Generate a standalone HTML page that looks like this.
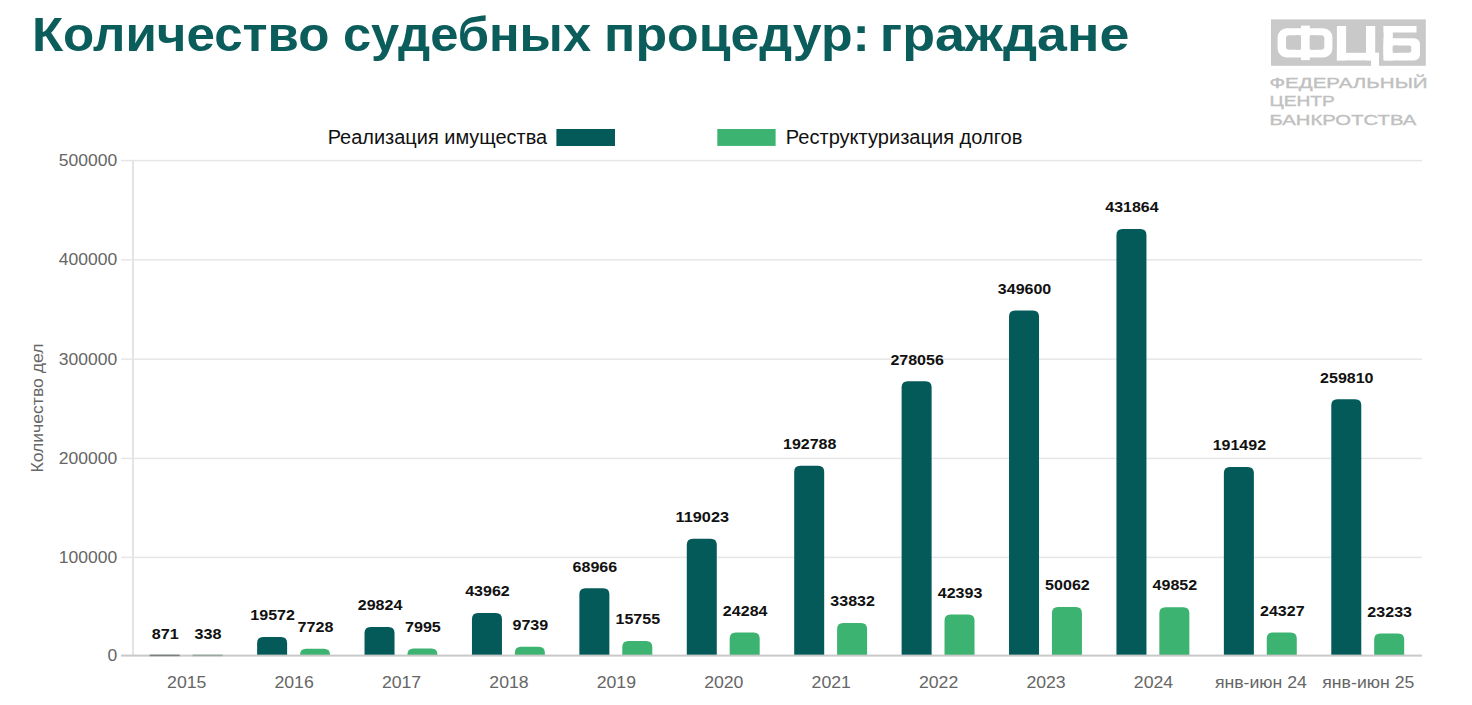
<!DOCTYPE html>
<html><head><meta charset="utf-8"><title>Количество судебных процедур: граждане</title>
<style>
html,body{margin:0;padding:0;background:#fff;width:1472px;height:705px;overflow:hidden}
svg{display:block;font-family:'Liberation Sans', sans-serif}
</style></head><body>
<svg width="1472" height="705" viewBox="0 0 1472 705">
<rect width="1472" height="705" fill="#fff"/>
<rect x="121" y="556.65" width="1301.00" height="1.5" fill="#e6e6e6"/>
<rect x="121" y="457.65" width="1301.00" height="1.5" fill="#e6e6e6"/>
<rect x="121" y="358.35" width="1301.00" height="1.5" fill="#e6e6e6"/>
<rect x="121" y="259.05" width="1301.00" height="1.5" fill="#e6e6e6"/>
<rect x="121" y="159.85" width="1301.00" height="1.5" fill="#e6e6e6"/>
<rect x="132.00" y="159.85" width="2" height="495.75" fill="#e4e4e4"/>


<path d="M257.12,655.60 L257.12,643.12 Q257.12,637.12 263.12,637.12 L281.12,637.12 Q287.12,637.12 287.12,643.12 L287.12,655.60 Z" fill="#035a59"/>
<path d="M300.02,655.60 L300.02,654.85 Q300.02,648.85 306.02,648.85 L324.02,648.85 Q330.02,648.85 330.02,654.85 L330.02,655.60 Z" fill="#3cb371"/>
<path d="M364.53,655.60 L364.53,632.97 Q364.53,626.97 370.53,626.97 L388.53,626.97 Q394.53,626.97 394.53,632.97 L394.53,655.60 Z" fill="#035a59"/>
<path d="M407.43,655.60 L407.43,654.58 Q407.43,648.58 413.43,648.58 L431.43,648.58 Q437.43,648.58 437.43,654.58 L437.43,655.60 Z" fill="#3cb371"/>
<path d="M471.95,655.60 L471.95,618.98 Q471.95,612.98 477.95,612.98 L495.95,612.98 Q501.95,612.98 501.95,618.98 L501.95,655.60 Z" fill="#035a59"/>
<path d="M514.85,655.60 L514.85,652.86 Q514.85,646.86 520.85,646.86 L538.85,646.86 Q544.85,646.86 544.85,652.86 L544.85,655.60 Z" fill="#3cb371"/>
<path d="M579.37,655.60 L579.37,594.22 Q579.37,588.22 585.37,588.22 L603.37,588.22 Q609.37,588.22 609.37,594.22 L609.37,655.60 Z" fill="#035a59"/>
<path d="M622.27,655.60 L622.27,646.90 Q622.27,640.90 628.27,640.90 L646.27,640.90 Q652.27,640.90 652.27,646.90 L652.27,655.60 Z" fill="#3cb371"/>
<path d="M686.78,655.60 L686.78,544.67 Q686.78,538.67 692.78,538.67 L710.78,538.67 Q716.78,538.67 716.78,544.67 L716.78,655.60 Z" fill="#035a59"/>
<path d="M729.68,655.60 L729.68,638.46 Q729.68,632.46 735.68,632.46 L753.68,632.46 Q759.68,632.46 759.68,638.46 L759.68,655.60 Z" fill="#3cb371"/>
<path d="M794.20,655.60 L794.20,471.64 Q794.20,465.64 800.20,465.64 L818.20,465.64 Q824.20,465.64 824.20,471.64 L824.20,655.60 Z" fill="#035a59"/>
<path d="M837.10,655.60 L837.10,629.01 Q837.10,623.01 843.10,623.01 L861.10,623.01 Q867.10,623.01 867.10,629.01 L867.10,655.60 Z" fill="#3cb371"/>
<path d="M901.62,655.60 L901.62,387.22 Q901.62,381.22 907.62,381.22 L925.62,381.22 Q931.62,381.22 931.62,387.22 L931.62,655.60 Z" fill="#035a59"/>
<path d="M944.52,655.60 L944.52,620.53 Q944.52,614.53 950.52,614.53 L968.52,614.53 Q974.52,614.53 974.52,620.53 L974.52,655.60 Z" fill="#3cb371"/>
<path d="M1009.03,655.60 L1009.03,316.40 Q1009.03,310.40 1015.03,310.40 L1033.03,310.40 Q1039.03,310.40 1039.03,316.40 L1039.03,655.60 Z" fill="#035a59"/>
<path d="M1051.93,655.60 L1051.93,612.94 Q1051.93,606.94 1057.93,606.94 L1075.93,606.94 Q1081.93,606.94 1081.93,612.94 L1081.93,655.60 Z" fill="#3cb371"/>
<path d="M1116.45,655.60 L1116.45,234.95 Q1116.45,228.95 1122.45,228.95 L1140.45,228.95 Q1146.45,228.95 1146.45,234.95 L1146.45,655.60 Z" fill="#035a59"/>
<path d="M1159.35,655.60 L1159.35,613.15 Q1159.35,607.15 1165.35,607.15 L1183.35,607.15 Q1189.35,607.15 1189.35,613.15 L1189.35,655.60 Z" fill="#3cb371"/>
<path d="M1223.87,655.60 L1223.87,472.92 Q1223.87,466.92 1229.87,466.92 L1247.87,466.92 Q1253.87,466.92 1253.87,472.92 L1253.87,655.60 Z" fill="#035a59"/>
<path d="M1266.77,655.60 L1266.77,638.42 Q1266.77,632.42 1272.77,632.42 L1290.77,632.42 Q1296.77,632.42 1296.77,638.42 L1296.77,655.60 Z" fill="#3cb371"/>
<path d="M1331.28,655.60 L1331.28,405.29 Q1331.28,399.29 1337.28,399.29 L1355.28,399.29 Q1361.28,399.29 1361.28,405.29 L1361.28,655.60 Z" fill="#035a59"/>
<path d="M1374.18,655.60 L1374.18,639.50 Q1374.18,633.50 1380.18,633.50 L1398.18,633.50 Q1404.18,633.50 1404.18,639.50 L1404.18,655.60 Z" fill="#3cb371"/>
<rect x="121" y="654.60" width="1301.00" height="2" fill="#c9c9c9"/>
<rect x="149.70" y="654.60" width="30.0" height="1.6" fill="#7a8180"/>
<rect x="192.60" y="654.60" width="30.0" height="1.6" fill="#9aa89f"/>
<text x="165.20" y="638.94" text-anchor="middle" font-weight="bold" font-size="15.2" fill="#111" textLength="27.00" lengthAdjust="spacingAndGlyphs">871</text>
<text x="208.10" y="639.47" text-anchor="middle" font-weight="bold" font-size="15.2" fill="#111" textLength="27.00" lengthAdjust="spacingAndGlyphs">338</text>
<text x="272.62" y="620.42" text-anchor="middle" font-weight="bold" font-size="15.2" fill="#111" textLength="44.60" lengthAdjust="spacingAndGlyphs">19572</text>
<text x="315.52" y="632.15" text-anchor="middle" font-weight="bold" font-size="15.2" fill="#111" textLength="35.80" lengthAdjust="spacingAndGlyphs">7728</text>
<text x="380.03" y="610.27" text-anchor="middle" font-weight="bold" font-size="15.2" fill="#111" textLength="44.60" lengthAdjust="spacingAndGlyphs">29824</text>
<text x="422.93" y="631.88" text-anchor="middle" font-weight="bold" font-size="15.2" fill="#111" textLength="35.80" lengthAdjust="spacingAndGlyphs">7995</text>
<text x="487.45" y="596.28" text-anchor="middle" font-weight="bold" font-size="15.2" fill="#111" textLength="44.60" lengthAdjust="spacingAndGlyphs">43962</text>
<text x="530.35" y="630.16" text-anchor="middle" font-weight="bold" font-size="15.2" fill="#111" textLength="35.80" lengthAdjust="spacingAndGlyphs">9739</text>
<text x="594.87" y="571.52" text-anchor="middle" font-weight="bold" font-size="15.2" fill="#111" textLength="44.60" lengthAdjust="spacingAndGlyphs">68966</text>
<text x="637.77" y="624.20" text-anchor="middle" font-weight="bold" font-size="15.2" fill="#111" textLength="44.60" lengthAdjust="spacingAndGlyphs">15755</text>
<text x="702.28" y="521.97" text-anchor="middle" font-weight="bold" font-size="15.2" fill="#111" textLength="53.40" lengthAdjust="spacingAndGlyphs">119023</text>
<text x="745.18" y="615.76" text-anchor="middle" font-weight="bold" font-size="15.2" fill="#111" textLength="44.60" lengthAdjust="spacingAndGlyphs">24284</text>
<text x="809.70" y="448.94" text-anchor="middle" font-weight="bold" font-size="15.2" fill="#111" textLength="53.40" lengthAdjust="spacingAndGlyphs">192788</text>
<text x="852.60" y="606.31" text-anchor="middle" font-weight="bold" font-size="15.2" fill="#111" textLength="44.60" lengthAdjust="spacingAndGlyphs">33832</text>
<text x="917.12" y="364.52" text-anchor="middle" font-weight="bold" font-size="15.2" fill="#111" textLength="53.40" lengthAdjust="spacingAndGlyphs">278056</text>
<text x="960.02" y="597.83" text-anchor="middle" font-weight="bold" font-size="15.2" fill="#111" textLength="44.60" lengthAdjust="spacingAndGlyphs">42393</text>
<text x="1024.53" y="293.70" text-anchor="middle" font-weight="bold" font-size="15.2" fill="#111" textLength="53.40" lengthAdjust="spacingAndGlyphs">349600</text>
<text x="1067.43" y="590.24" text-anchor="middle" font-weight="bold" font-size="15.2" fill="#111" textLength="44.60" lengthAdjust="spacingAndGlyphs">50062</text>
<text x="1131.95" y="212.25" text-anchor="middle" font-weight="bold" font-size="15.2" fill="#111" textLength="53.40" lengthAdjust="spacingAndGlyphs">431864</text>
<text x="1174.85" y="590.45" text-anchor="middle" font-weight="bold" font-size="15.2" fill="#111" textLength="44.60" lengthAdjust="spacingAndGlyphs">49852</text>
<text x="1239.37" y="450.22" text-anchor="middle" font-weight="bold" font-size="15.2" fill="#111" textLength="53.40" lengthAdjust="spacingAndGlyphs">191492</text>
<text x="1282.27" y="615.72" text-anchor="middle" font-weight="bold" font-size="15.2" fill="#111" textLength="44.60" lengthAdjust="spacingAndGlyphs">24327</text>
<text x="1346.78" y="382.59" text-anchor="middle" font-weight="bold" font-size="15.2" fill="#111" textLength="53.40" lengthAdjust="spacingAndGlyphs">259810</text>
<text x="1389.68" y="616.80" text-anchor="middle" font-weight="bold" font-size="15.2" fill="#111" textLength="44.60" lengthAdjust="spacingAndGlyphs">23233</text>
<text x="117.2" y="661.00" text-anchor="end" font-size="17" fill="#666" textLength="9.74" lengthAdjust="spacingAndGlyphs">0</text>
<text x="117.2" y="562.80" text-anchor="end" font-size="17" fill="#666" textLength="58.42" lengthAdjust="spacingAndGlyphs">100000</text>
<text x="117.2" y="463.80" text-anchor="end" font-size="17" fill="#666" textLength="58.42" lengthAdjust="spacingAndGlyphs">200000</text>
<text x="117.2" y="364.50" text-anchor="end" font-size="17" fill="#666" textLength="58.42" lengthAdjust="spacingAndGlyphs">300000</text>
<text x="117.2" y="265.20" text-anchor="end" font-size="17" fill="#666" textLength="58.42" lengthAdjust="spacingAndGlyphs">400000</text>
<text x="117.2" y="166.00" text-anchor="end" font-size="17" fill="#666" textLength="58.42" lengthAdjust="spacingAndGlyphs">500000</text>
<g transform="translate(186.71,688) scale(1.04,1)"><text x="0" y="0" text-anchor="middle" font-size="17" fill="#666">2015</text></g>
<g transform="translate(294.12,688) scale(1.04,1)"><text x="0" y="0" text-anchor="middle" font-size="17" fill="#666">2016</text></g>
<g transform="translate(401.54,688) scale(1.04,1)"><text x="0" y="0" text-anchor="middle" font-size="17" fill="#666">2017</text></g>
<g transform="translate(508.96,688) scale(1.04,1)"><text x="0" y="0" text-anchor="middle" font-size="17" fill="#666">2018</text></g>
<g transform="translate(616.38,688) scale(1.04,1)"><text x="0" y="0" text-anchor="middle" font-size="17" fill="#666">2019</text></g>
<g transform="translate(723.79,688) scale(1.04,1)"><text x="0" y="0" text-anchor="middle" font-size="17" fill="#666">2020</text></g>
<g transform="translate(831.21,688) scale(1.04,1)"><text x="0" y="0" text-anchor="middle" font-size="17" fill="#666">2021</text></g>
<g transform="translate(938.63,688) scale(1.04,1)"><text x="0" y="0" text-anchor="middle" font-size="17" fill="#666">2022</text></g>
<g transform="translate(1046.04,688) scale(1.04,1)"><text x="0" y="0" text-anchor="middle" font-size="17" fill="#666">2023</text></g>
<g transform="translate(1153.46,688) scale(1.04,1)"><text x="0" y="0" text-anchor="middle" font-size="17" fill="#666">2024</text></g>
<g transform="translate(1260.88,688) scale(1.04,1)"><text x="0" y="0" text-anchor="middle" font-size="17" fill="#666">янв-июн 24</text></g>
<g transform="translate(1368.29,688) scale(1.04,1)"><text x="0" y="0" text-anchor="middle" font-size="17" fill="#666">янв-июн 25</text></g>
<text x="0" y="0" transform="translate(43,472.6) rotate(-90)" font-size="16.4" fill="#666" textLength="129" lengthAdjust="spacingAndGlyphs">Количество дел</text>
<text x="327.7" y="143.8" font-size="20" fill="#111" textLength="219.5" lengthAdjust="spacingAndGlyphs">Реализация имущества</text>
<rect x="556.4" y="129" width="58.6" height="17" fill="#035a59"/>
<rect x="717.3" y="129" width="58.3" height="16.9" fill="#3cb371"/>
<text x="785.8" y="143.8" font-size="20" fill="#111" textLength="236.6" lengthAdjust="spacingAndGlyphs">Реструктуризация долгов</text>
<text x="31.98" y="51" font-size="49" font-weight="bold" fill="#0b5d5b" textLength="297.47" lengthAdjust="spacingAndGlyphs">Количество</text>
<text x="342.93" y="51" font-size="49" font-weight="bold" fill="#0b5d5b" textLength="248.15" lengthAdjust="spacingAndGlyphs">судебных</text>
<text x="604.13" y="51" font-size="49" font-weight="bold" fill="#0b5d5b" textLength="265.71" lengthAdjust="spacingAndGlyphs">процедур:</text>
<text x="879.81" y="51" font-size="49" font-weight="bold" fill="#0b5d5b" textLength="249.49" lengthAdjust="spacingAndGlyphs">граждане</text>
<g>
<rect x="1271" y="19.4" width="154.8" height="46.4" fill="#c9c9c9"/>
<rect x="1277.6" y="28.3" width="54.8" height="29.2" rx="9" fill="#fff"/>
<rect x="1301" y="25.6" width="8.8" height="34.5" fill="#fff"/>
<rect x="1286" y="35.2" width="14.6" height="14.5" rx="3" fill="#c9c9c9"/>
<rect x="1309.8" y="35.2" width="14.5" height="14.5" rx="3" fill="#c9c9c9"/>
<rect x="1296" y="35.2" width="5" height="14.5" fill="#c9c9c9"/>
<rect x="1309.8" y="35.2" width="5" height="14.5" fill="#c9c9c9"/>
<rect x="1336.9" y="26" width="9.2" height="34.4" fill="#fff"/>
<rect x="1366" y="26" width="9.2" height="34.4" fill="#fff"/>
<rect x="1336.9" y="52.8" width="42.1" height="7.6" fill="#fff"/>
<rect x="1371" y="52.8" width="8" height="14" fill="#fff"/>
<rect x="1383.6" y="26" width="9.2" height="34.4" fill="#fff"/>
<rect x="1383.6" y="26" width="32.9" height="6.5" fill="#fff"/>
<rect x="1383.6" y="38.2" width="36.4" height="22.2" rx="6" fill="#fff"/>
<rect x="1383.6" y="38.2" width="10" height="22.2" fill="#fff"/>
<rect x="1392.8" y="45.5" width="18.4" height="7.3" rx="2" fill="#c9c9c9"/>
<rect x="1392.8" y="45.5" width="5" height="7.3" fill="#c9c9c9"/>
</g>
<text x="1269.4" y="88" font-size="14.5" fill="#c0c0c0" stroke="#c0c0c0" stroke-width="0.35" textLength="158.2" lengthAdjust="spacingAndGlyphs">ФЕДЕРАЛЬНЫЙ</text>
<text x="1269.5" y="106" font-size="14.5" fill="#c0c0c0" stroke="#c0c0c0" stroke-width="0.35" textLength="65.4" lengthAdjust="spacingAndGlyphs">ЦЕНТР</text>
<text x="1269.4" y="124.5" font-size="14.5" fill="#c0c0c0" stroke="#c0c0c0" stroke-width="0.35" textLength="146.9" lengthAdjust="spacingAndGlyphs">БАНКРОТСТВА</text>
</svg>
</body></html>
